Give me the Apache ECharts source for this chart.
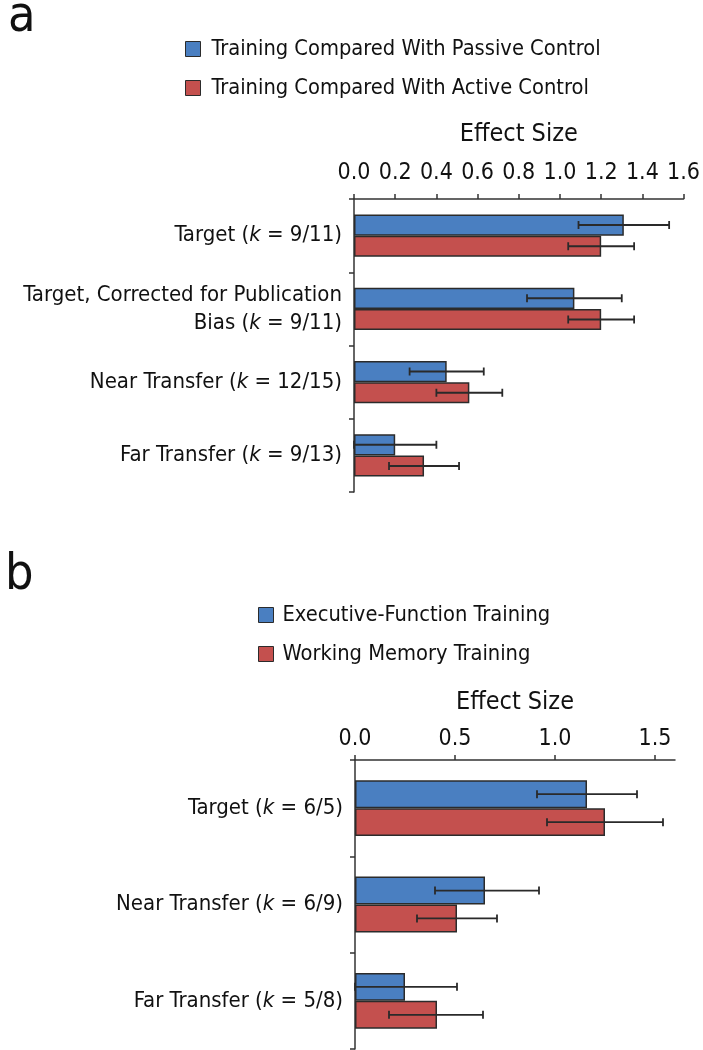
<!DOCTYPE html>
<html>
<head>
<meta charset="utf-8">
<script src="https://cdn.jsdelivr.net/npm/echarts@6/dist/echarts.min.js"></script>
<style>
html,body{margin:0;padding:0;background:#fff;}
#main{width:703px;height:1050px;}
</style>
</head>
<body>
<div id="main"></div>
<script>
// Panel a data
const catsA = ['Target (k = 9/11)', 'Target, Corrected for Publication\nBias (k = 9/11)', 'Near Transfer (k = 12/15)', 'Far Transfer (k = 9/13)'];
const seriesNamesA = ['Training Compared With Passive Control', 'Training Compared With Active Control'];
const passiveA = [1.31, 1.07, 0.45, 0.20];
const passiveLowA = [1.09, 0.84, 0.27, 0.00];
const passiveHighA = [1.53, 1.30, 0.63, 0.40];
const activeA = [1.20, 1.20, 0.56, 0.34];
const activeLowA = [1.04, 1.04, 0.40, 0.17];
const activeHighA = [1.36, 1.36, 0.72, 0.51];
const ticksA = [0, 0.2, 0.4, 0.6, 0.8, 1.0, 1.2, 1.4, 1.6];

// Panel b data
const catsB = ['Target (k = 6/5)', 'Near Transfer (k = 6/9)', 'Far Transfer (k = 5/8)'];
const seriesNamesB = ['Executive-Function Training', 'Working Memory Training'];
const execB = [1.16, 0.65, 0.25];
const execLowB = [0.91, 0.40, 0.00];
const execHighB = [1.41, 0.92, 0.51];
const wmB = [1.25, 0.51, 0.41];
const wmLowB = [0.96, 0.31, 0.17];
const wmHighB = [1.54, 0.71, 0.64];
const ticksB = [0, 0.5, 1.0, 1.5];

const FONT = '"Liberation Sans Narrow", "DejaVu Sans Condensed", "Roboto", sans-serif';
const BLUE = '#4a7fc1';
const RED = '#c4504e';
const EDGE = '#2b2b2b';
const GAP = 0.42;

function catFormatter(v) {
  return v.split('\n').map(function (line) {
    const m = line.match(/^(.*\()k( = .*)$/);
    if (m) return '{n|' + m[1] + '}{i|k}{n|' + m[2] + '}';
    return '{n|' + line + '}';
  }).join('\n');
}

function errData(lows, highs) {
  return lows.map(function (l, i) { return [l, highs[i], i]; });
}

function makeErr(name, xi, yi, lows, highs, side) {
  return {
    type: 'custom',
    name: name,
    xAxisIndex: xi,
    yAxisIndex: yi,
    silent: true,
    z: 5,
    data: errData(lows, highs),
    encode: { x: [0, 1], y: 2 },
    renderItem: function (params, api) {
      const band = api.size([0, 1])[1];
      const bw = band * (1 - GAP) / 2;
      const p1 = api.coord([api.value(0), api.value(2)]);
      const p2 = api.coord([api.value(1), api.value(2)]);
      const y = p1[1] + side * bw / 2;
      const h = 4;
      const st = { stroke: '#2a2a2a', lineWidth: 1.8 };
      return {
        type: 'group',
        children: [
          { type: 'line', shape: { x1: p1[0], y1: y, x2: p2[0], y2: y }, style: st },
          { type: 'line', shape: { x1: p1[0], y1: y - h, x2: p1[0], y2: y + h }, style: st },
          { type: 'line', shape: { x1: p2[0], y1: y - h, x2: p2[0], y2: y + h }, style: st }
        ]
      };
    }
  };
}

function valueAxis(gi, max, ticks, interval, margin, nameGap) {
  return {
    type: 'value', gridIndex: gi, position: 'top',
    min: 0, max: max, interval: interval,
    name: 'Effect Size', nameLocation: 'middle', nameGap: nameGap,
    nameTextStyle: { fontFamily: FONT, fontSize: 25, color: '#111' },
    axisLine: { show: true, lineStyle: { color: '#333', width: 1.5 } },
    axisTick: { show: true, length: 5, inside: false, lineStyle: { color: '#333', width: 1.5 }, customValues: ticks },
    axisLabel: { fontFamily: FONT, fontSize: 23, color: '#111', margin: margin, customValues: ticks,
      formatter: function (v) { return v.toFixed(1); } },
    splitLine: { show: false }
  };
}

function catAxis(gi, cats) {
  return {
    type: 'category', gridIndex: gi, inverse: true, data: cats,
    axisLine: { show: true, lineStyle: { color: '#333', width: 1.5 } },
    axisTick: { show: true, length: 5, lineStyle: { color: '#333', width: 1.5 } },
    axisLabel: {
      margin: 12, formatter: catFormatter, align: 'right',
      rich: {
        n: { fontFamily: FONT, fontSize: 22, color: '#111', lineHeight: 28 },
        i: { fontFamily: FONT, fontSize: 22, color: '#111', fontStyle: 'italic', lineHeight: 28 }
      }
    }
  };
}

function barSeries(name, xi, yi, data, color) {
  return {
    type: 'bar', name: name, xAxisIndex: xi, yAxisIndex: yi, data: data,
    barGap: '0%', barCategoryGap: (GAP * 100) + '%',
    itemStyle: { color: color, borderColor: EDGE, borderWidth: 1.5 },
    emphasis: { disabled: true }
  };
}

const chart = echarts.init(document.getElementById('main'), null, { renderer: 'canvas' });
chart.setOption({
  animation: false,
  backgroundColor: '#fff',
  title: [
    { text: 'a', left: 3, top: -12, textStyle: { fontFamily: FONT, fontSize: 50, fontWeight: 'normal', color: '#111' } },
    { text: 'b', left: 0, top: 546, textStyle: { fontFamily: FONT, fontSize: 50, fontWeight: 'normal', color: '#111' } }
  ],
  legend: [
    {
      data: seriesNamesA, orient: 'vertical', left: 180, top: 33, itemGap: 17,
      itemWidth: 15, itemHeight: 15, icon: 'rect',
      itemStyle: { borderColor: EDGE, borderWidth: 1 },
      textStyle: { fontFamily: FONT, fontSize: 21.7, color: '#111', padding: [0, 0, 0, 6] },
      selectedMode: false
    },
    {
      data: seriesNamesB, orient: 'vertical', left: 253, top: 599, itemGap: 17,
      itemWidth: 15, itemHeight: 15, icon: 'rect',
      itemStyle: { borderColor: EDGE, borderWidth: 1 },
      textStyle: { fontFamily: FONT, fontSize: 21.7, color: '#111', padding: [0, 0, 0, 4] },
      selectedMode: false
    }
  ],
  grid: [
    { left: 354, right: 15, top: 199, height: 293 },
    { left: 355, right: 28, top: 760, height: 289 }
  ],
  xAxis: [ valueAxis(0, 1.6, ticksA, 0.2, 14, 52), valueAxis(1, 1.6, ticksB, 0.5, 9, 45) ],
  yAxis: [ catAxis(0, catsA), catAxis(1, catsB) ],
  series: [
    barSeries(seriesNamesA[0], 0, 0, passiveA, BLUE),
    barSeries(seriesNamesA[1], 0, 0, activeA, RED),
    makeErr('errPassive', 0, 0, passiveLowA, passiveHighA, -1),
    makeErr('errActive', 0, 0, activeLowA, activeHighA, 1),
    barSeries(seriesNamesB[0], 1, 1, execB, BLUE),
    barSeries(seriesNamesB[1], 1, 1, wmB, RED),
    makeErr('errExec', 1, 1, execLowB, execHighB, -1),
    makeErr('errWM', 1, 1, wmLowB, wmHighB, 1)
  ]
});
</script>
</body>
</html>
